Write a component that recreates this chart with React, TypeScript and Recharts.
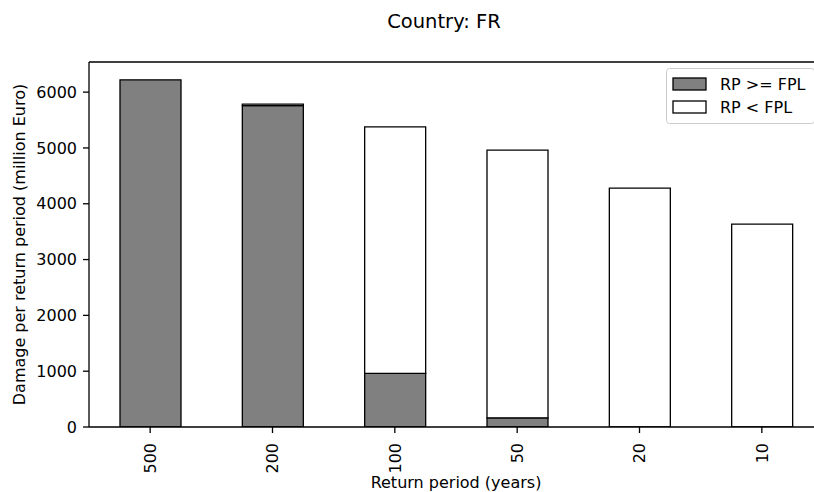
import React from 'react';
import { BarChart, Bar, XAxis, YAxis, Label, ReferenceLine } from 'recharts';

const returnPeriods = ['500', '200', '100', '50', '20', '10'];
const rpAboveFpl = [6220, 5760, 960, 165, 0, 0];
const rpBelowFpl = [0, 25, 4416, 4795, 4279, 3634];
const yTicks = [0, 1000, 2000, 3000, 4000, 5000, 6000];
const yMax = 6540;

const data = returnPeriods.map((rp, i) => ({ rp, above: rpAboveFpl[i], below: rpBelowFpl[i] }));

const FONT = 'DejaVu Sans, sans-serif';
const LW = 1.3;

const XTick = (props: any) => {
  const { x, y, payload } = props;
  return (
    <g transform={`translate(${x},${y + 10})`}>
      <text transform="rotate(-90)" textAnchor="end" dy="0.36em" fontSize={16} fontFamily={FONT} fill="#000">
        {payload.value}
      </text>
    </g>
  );
};

const LegendBox = () => (
  <svg width={150} height={58} style={{ display: 'block' }}>
    <rect x={0.5} y={0.5} width={148} height={55} rx={3} ry={3} fill="rgba(255,255,255,0.8)" stroke="#cccccc" strokeWidth={1} />
    <rect x={7} y={10} width={33} height={12} fill="#808080" stroke="#000" strokeWidth={LW} />
    <text x={54} y={22} fontSize={16} fontFamily={FONT} fill="#000">RP &gt;= FPL</text>
    <rect x={7} y={33} width={33} height={12} fill="#ffffff" stroke="#000" strokeWidth={LW} />
    <text x={54} y={45} fontSize={16} fontFamily={FONT} fill="#000">RP &lt; FPL</text>
  </svg>
);

export default function App() {
  return (
    <div style={{ position: 'absolute', left: 0, top: 0, width: 814, height: 492, overflow: 'hidden', background: '#fff' }}>
      <BarChart width={830} height={492} data={data} margin={{ top: 62, right: 7, bottom: 35, left: 19 }}>
        <XAxis
          dataKey="rp"
          height={30}
          tick={<XTick />}
          tickSize={6}
          tickMargin={0}
          interval={0}
          axisLine={{ stroke: '#000', strokeWidth: LW }}
          tickLine={{ stroke: '#000', strokeWidth: LW }}
        >
          <Label
            content={() => (
              <g>
                <text x={456} y={488} textAnchor="middle" fontSize={16} fontFamily={FONT} fill="#000">
                  Return period (years)
                </text>
                <text x={444} y={28} textAnchor="middle" fontSize={19.5} fontFamily={FONT} fill="#000">
                  Country: FR
                </text>
              </g>
            )}
          />
        </XAxis>
        <YAxis
          width={70}
          domain={[0, yMax]}
          ticks={yTicks}
          interval={0}
          allowDataOverflow
          tickSize={6}
          tickMargin={6}
          tick={{ fontSize: 16, fontFamily: FONT, fill: '#000' }}
          axisLine={{ stroke: '#000', strokeWidth: LW }}
          tickLine={{ stroke: '#000', strokeWidth: LW }}
        >
          <Label
            content={() => (
              <text
                x={25}
                y={244.5}
                transform="rotate(-90 25 244.5)"
                textAnchor="middle"
                fontSize={16}
                fontFamily={FONT}
                fill="#000"
              >
                Damage per return period (million Euro)
              </text>
            )}
          />
        </YAxis>
        <Bar dataKey="above" name="RP >= FPL" stackId="a" barSize={61} fill="#808080" stroke="#000" strokeWidth={LW} isAnimationActive={false} />
        <Bar dataKey="below" name="RP < FPL" stackId="a" barSize={61} fill="#ffffff" stroke="#000" strokeWidth={LW} isAnimationActive={false} />
        <ReferenceLine y={yMax} stroke="#000" strokeWidth={LW} ifOverflow="visible" />
      </BarChart>
      <div style={{ position: 'absolute', left: 666, top: 68 }}>
        <LegendBox />
      </div>
    </div>
  );
}
